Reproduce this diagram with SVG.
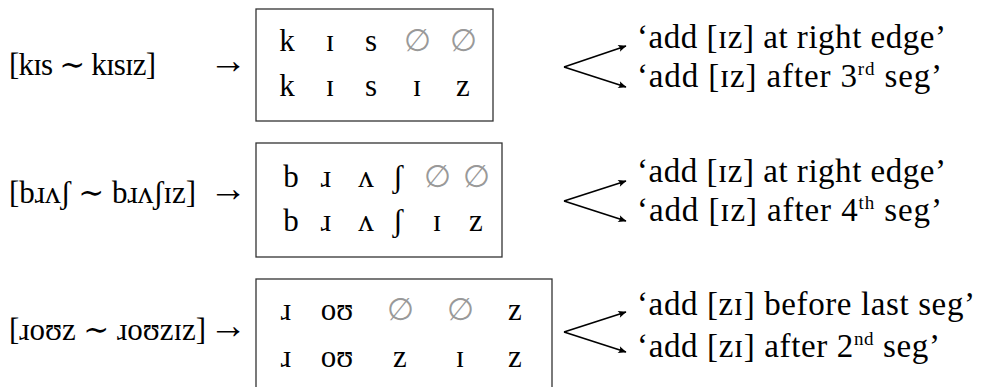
<svg xmlns="http://www.w3.org/2000/svg" width="982" height="387" viewBox="0 0 982 387">
  <style>
    text { font-family: "Liberation Serif", "DejaVu Serif", serif; font-size: 31px; fill: #000; }
    .seg { text-anchor: middle; }
    .null { fill: #999; }
    .gloss { font-size: 33px; }
    .sup { font-size: 19px; }
    .to { font-size: 38px; }
    .box { fill: none; stroke: #333; stroke-width: 1.3; }
    .fork { fill: none; stroke: #000; stroke-width: 1.7; marker-end: url(#tip); }
  </style>
  <defs>
    <marker id="tip" viewBox="0 0 10 10" refX="9" refY="5" markerWidth="9" markerHeight="9" orient="auto" markerUnits="userSpaceOnUse">
      <path d="M0.5,1 L9.5,5 L0.5,9 Q3.5,5 0.5,1 Z" fill="#000"/>
    </marker>
  </defs>

  <!-- row 1: kɪs -->
  <g id="input-kis">
    <text x="9" y="75" textLength="147">[kɪs ∼ kɪsɪz]</text>
    <text class="to" x="209" y="73">→</text>
  </g>
  <g id="align-kis">
    <rect class="box" x="256" y="9" width="237" height="112"/>
    <text class="seg" x="287" y="51">k</text>
    <text class="seg" x="330" y="51">ɪ</text>
    <text class="seg" x="371" y="51">s</text>
    <text class="seg null" x="417" y="51">∅</text>
    <text class="seg null" x="463" y="51">∅</text>
    <text class="seg" x="287" y="96">k</text>
    <text class="seg" x="330" y="96">ɪ</text>
    <text class="seg" x="371" y="96">s</text>
    <text class="seg" x="417" y="96">ɪ</text>
    <text class="seg" x="463" y="96">z</text>
  </g>
  <g id="gloss-kis">
    <text class="gloss" x="637" y="48" textLength="309">‘add [ɪz] at right edge’</text>
    <text class="gloss" x="637" y="87" textLength="305">‘add [ɪz] after 3<tspan class="sup" dy="-12">rd</tspan><tspan dy="12"> seg’</tspan></text>
  </g>

  <!-- row 2: bɹʌʃ -->
  <g id="input-brush">
    <text x="9" y="203" textLength="187">[bɹʌʃ ∼ bɹʌʃɪz]</text>
    <text class="to" x="209" y="201">→</text>
  </g>
  <g id="align-brush">
    <rect class="box" x="256" y="143" width="246" height="114"/>
    <text class="seg" x="291" y="187">b</text>
    <text class="seg" x="326" y="187">ɹ</text>
    <text class="seg" x="366" y="187">ʌ</text>
    <text class="seg" x="398" y="187">ʃ</text>
    <text class="seg null" x="437" y="187">∅</text>
    <text class="seg null" x="476" y="187">∅</text>
    <text class="seg" x="291" y="231">b</text>
    <text class="seg" x="326" y="231">ɹ</text>
    <text class="seg" x="366" y="231">ʌ</text>
    <text class="seg" x="398" y="231">ʃ</text>
    <text class="seg" x="437" y="231">ɪ</text>
    <text class="seg" x="476" y="231">z</text>
  </g>
  <g id="gloss-brush">
    <text class="gloss" x="637" y="182" textLength="309">‘add [ɪz] at right edge’</text>
    <text class="gloss" x="637" y="221" textLength="305">‘add [ɪz] after 4<tspan class="sup" dy="-12">th</tspan><tspan dy="12"> seg’</tspan></text>
  </g>

  <!-- row 3: ɹoʊz -->
  <g id="input-rose">
    <text x="9" y="340" textLength="197">[ɹoʊz ∼ ɹoʊzɪz]</text>
    <text class="to" x="209" y="338">→</text>
  </g>
  <g id="align-rose">
    <rect class="box" x="256" y="279" width="296" height="130"/>
    <text class="seg" x="286" y="320">ɹ</text>
    <text class="seg" x="337" y="320">oʊ</text>
    <text class="seg null" x="400" y="320">∅</text>
    <text class="seg null" x="460" y="320">∅</text>
    <text class="seg" x="515" y="320">z</text>
    <text class="seg" x="286" y="367">ɹ</text>
    <text class="seg" x="337" y="367">oʊ</text>
    <text class="seg" x="400" y="367">z</text>
    <text class="seg" x="460" y="367">ɪ</text>
    <text class="seg" x="515" y="367">z</text>
  </g>
  <g id="gloss-rose">
    <text class="gloss" x="637" y="315" textLength="338">‘add [zɪ] before last seg’</text>
    <text class="gloss" x="637" y="357" textLength="303">‘add [zɪ] after 2<tspan class="sup" dy="-12">nd</tspan><tspan dy="12"> seg’</tspan></text>
  </g>

  <g id="connectors">
    <path class="fork" d="M564,67 L626,46"/>
    <path class="fork" d="M564,67 L626,87"/>
    <path class="fork" d="M564,201 L626,181"/>
    <path class="fork" d="M564,201 L626,221"/>
    <path class="fork" d="M564,332 L626,312"/>
    <path class="fork" d="M564,332 L626,352"/>
  </g>
</svg>
